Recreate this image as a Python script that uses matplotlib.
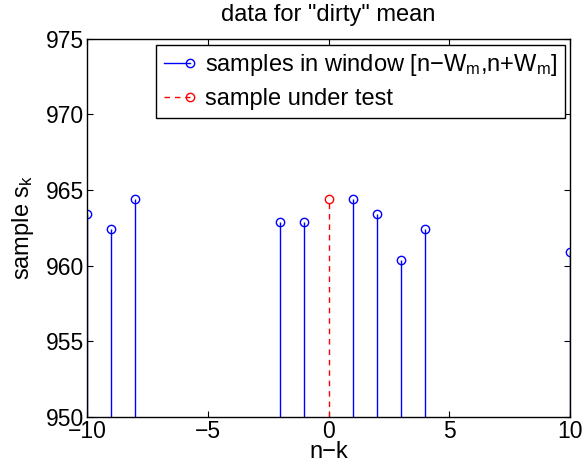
import numpy as np
import matplotlib
matplotlib.use("Agg")
import matplotlib.pyplot as plt
from matplotlib.lines import Line2D
from matplotlib.legend_handler import HandlerLine2D

plt.rcParams["font.family"] = ["Liberation Sans", "DejaVu Sans"]
plt.rcParams["mathtext.default"] = "regular"

# data
window_k = [-10, -9, -8, -2, -1, 1, 2, 3, 4, 10]
window_s = [963.4, 962.4, 964.4, 962.9, 962.9, 964.4, 963.4, 960.4, 962.4, 960.9]
test_k = [0]
test_s = [964.4]
x_ticks = [-10, -5, 0, 5, 10]
y_ticks = [950, 955, 960, 965, 970, 975]

DASH = (0, (4, 3.5))


class EndMarkerHandler(HandlerLine2D):
    # matlab style legend: marker sits at the right end of the line
    def create_artists(self, legend, orig_handle, xdescent, ydescent,
                       width, height, fontsize, trans):
        arts = super().create_artists(legend, orig_handle, xdescent, ydescent,
                                      width, height, fontsize, trans)
        arts[0].set_markevery([2])
        return arts


fig = plt.figure(figsize=(5.83, 4.68), dpi=100)
ax = fig.add_axes([0.149, 0.109, 0.829, 0.808])

m, s, b = ax.stem(window_k, window_s, linefmt="b-", markerfmt="bo",
                  basefmt=" ", bottom=950)
plt.setp(s, linewidth=1.0, color=(0, 0, 1))
plt.setp(m, markerfacecolor="none", markeredgecolor=(0, 0, 1),
         markersize=6, markeredgewidth=1.0)

m2, s2, b2 = ax.stem(test_k, test_s, linefmt="r--", markerfmt="ro",
                     basefmt=" ", bottom=950)
plt.setp(s2, linewidth=1.0, color=(1, 0, 0), linestyle=DASH)
plt.setp(m2, markerfacecolor="none", markeredgecolor=(1, 0, 0),
         markersize=6, markeredgewidth=1.0)

ax.set_xlim(-10, 10)
ax.set_ylim(950, 975)
ax.set_xticks(x_ticks)
ax.set_yticks(y_ticks)
ax.set_xticklabels([str(t).replace("-", "\u2212") for t in x_ticks])
ax.tick_params(direction="in", top=True, right=True, length=4,
               labelsize=16.5, width=0.8, pad=2)
for sp in ax.spines.values():
    sp.set_linewidth(1.0)

ax.set_title('data for "dirty" mean', fontsize=17, pad=13)
ax.set_xlabel("n\u2212k", fontsize=17, labelpad=-1)
ax.set_ylabel("sample s$_k$", fontsize=17, labelpad=7)

h1 = Line2D([], [], color=(0, 0, 1), linestyle="-", marker="o",
            markerfacecolor="none", markersize=6, linewidth=1.0)
h2 = Line2D([], [], color=(1, 0, 0), linestyle=DASH, marker="o",
            markerfacecolor="none", markersize=6, linewidth=1.0)
leg = ax.legend([h1, h2],
                ["samples in window [n\u2212W$_m$,n+W$_m$]", "sample under test"],
                handler_map={Line2D: EndMarkerHandler()},
                loc="upper right", bbox_to_anchor=(0.99, 0.984),
                fontsize=17, handlelength=1.1, handletextpad=0.65,
                borderpad=0.32, labelspacing=0.42, fancybox=False,
                edgecolor="black", framealpha=1, borderaxespad=0)
leg.get_frame().set_linewidth(1.0)

fig.savefig("out.png", dpi=100)
